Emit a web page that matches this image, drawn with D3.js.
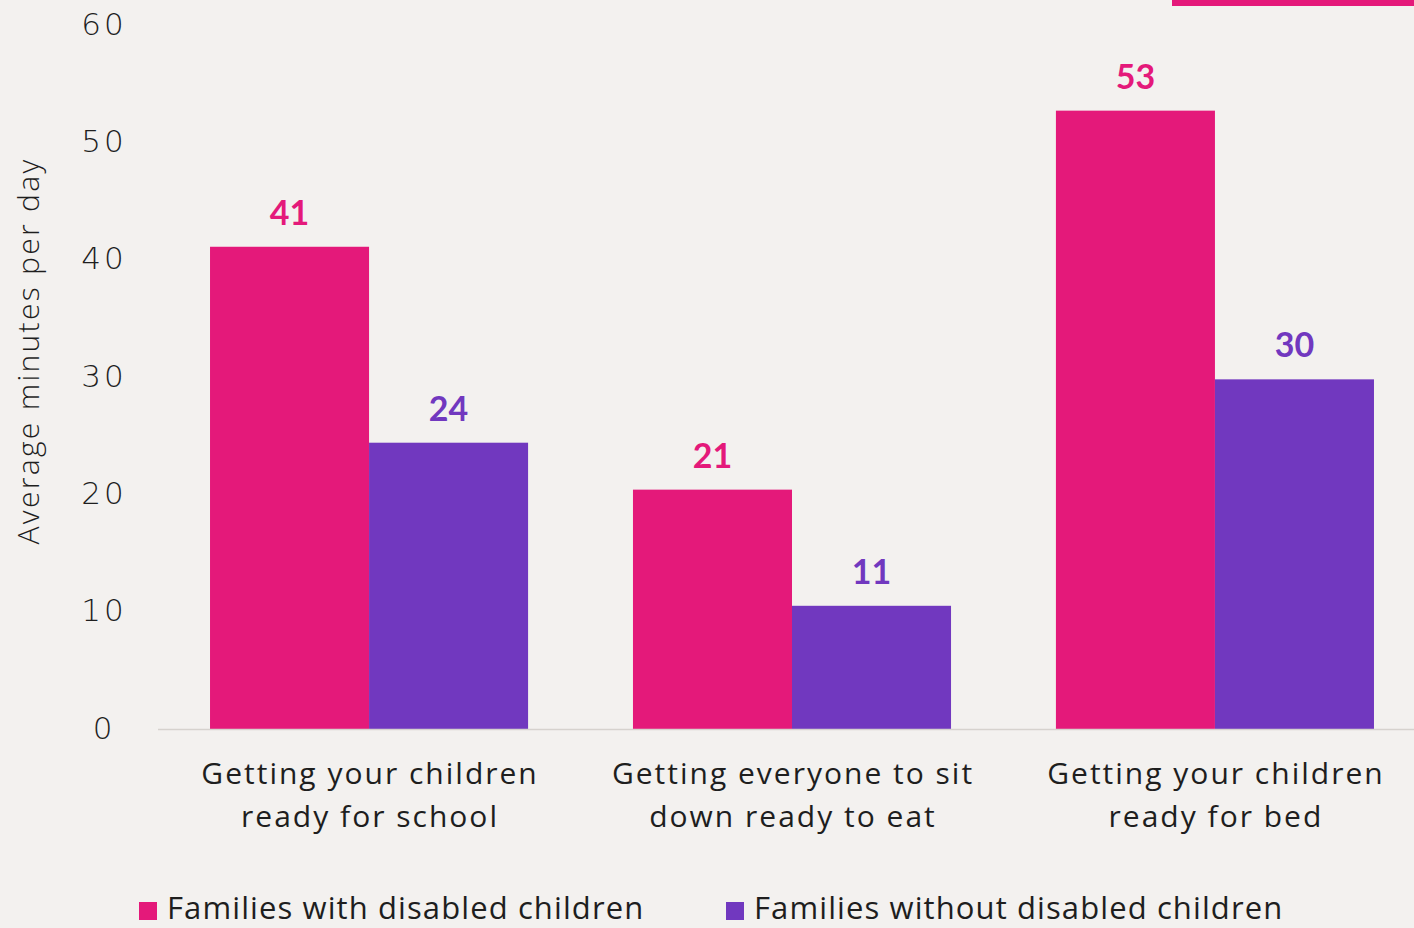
<!DOCTYPE html>
<html>
<head>
<meta charset="utf-8">
<script src="https://cdn.jsdelivr.net/npm/d3@7"></script>
<style>
  html, body { margin: 0; padding: 0; background: #f3f1ef; }
  svg { display: block; font-family: "Open Sans", Lato, sans-serif; }
</style>
</head>
<body>
<div id="chart"></div>
<script>
// chart values
var categories = ["Getting your children ready for school",
                  "Getting everyone to sit down ready to eat",
                  "Getting your children ready for bed"];
var categoryLines = [["Getting your children", "ready for school"],
                     ["Getting everyone to sit", "down ready to eat"],
                     ["Getting your children", "ready for bed"]];
var series = ["Families with disabled children", "Families without disabled children"];
var withDisabled = [41.1, 20.4, 52.7];
var withoutDisabled = [24.4, 10.5, 29.8];
var withLabels = ["41", "21", "53"];
var withoutLabels = ["24", "11", "30"];
var yTicks = [0, 10, 20, 30, 40, 50, 60];

var width = 1414,
    height = 928;

var colors = ["#e4197a", "#7138bf"];
var ink = "#1e1e1e";

var svg = d3.select("#chart").append("svg")
    .attr("width", width)
    .attr("height", height);

svg.append("rect")
    .attr("width", width).attr("height", height)
    .attr("fill", "#f3f1ef");

// decorative accent at the top right
svg.append("rect")
    .attr("x", 1172).attr("y", 0)
    .attr("width", 242).attr("height", 6)
    .attr("fill", colors[0]);

var y = d3.scaleLinear().domain([0, 60]).range([729, 25]);

var x0 = d3.scaleBand()
    .domain(categories)
    .range([158, 1426])
    .paddingInner(0.248)
    .paddingOuter(0.123);

var x1 = d3.scaleBand()
    .domain(series)
    .range([0, x0.bandwidth()]);

var rows = categories.map(function(c, i) {
    return {
        category: c,
        lines: categoryLines[i],
        values: [
            {name: series[0], value: withDisabled[i], label: withLabels[i], color: colors[0]},
            {name: series[1], value: withoutDisabled[i], label: withoutLabels[i], color: colors[1]}
        ]
    };
});

// y tick labels (no axis line)
var yAxis = svg.append("g")
    .attr("transform", "translate(104,0)")
    .call(d3.axisLeft(y).tickValues(yTicks).tickSize(0).tickPadding(0));
yAxis.select(".domain").remove();
yAxis.selectAll("text")
    .attr("text-anchor", "middle")
    .attr("dy", "0.36em")
    .attr("y", -2)
    .style("font-family", "'DejaVu Sans', sans-serif")
    .style("font-weight", 200)
    .style("font-size", "31px")
    .style("letter-spacing", "3px")
    .attr("fill", ink);

// axis title
svg.append("text")
    .attr("transform", "translate(39,351) rotate(-90)")
    .attr("text-anchor", "middle")
    .style("font-size", "30px")
    .style("font-weight", 300)
    .style("letter-spacing", "2.3px")
    .attr("fill", ink)
    .text("Average minutes per day");

// bars
var groups = svg.selectAll(".group")
    .data(rows)
    .enter().append("g")
    .attr("class", "group")
    .attr("transform", function(d) { return "translate(" + x0(d.category) + ",0)"; });

groups.selectAll("rect")
    .data(function(d) { return d.values; })
    .enter().append("rect")
    .attr("x", function(d) { return x1(d.name); })
    .attr("y", function(d) { return y(d.value); })
    .attr("width", x1.bandwidth())
    .attr("height", function(d) { return y(0) - y(d.value); })
    .attr("fill", function(d) { return d.color; });

groups.selectAll(".val")
    .data(function(d) { return d.values; })
    .enter().append("text")
    .attr("class", "val")
    .attr("x", function(d) { return x1(d.name) + x1.bandwidth() / 2; })
    .attr("y", function(d) { return y(d.value) - 22; })
    .attr("text-anchor", "middle")
    .style("font-family", "Lato, sans-serif")
    .style("font-size", "34px")
    .style("font-weight", 700)
    .attr("fill", function(d) { return d.color; })
    .text(function(d) { return d.label; });

// baseline
svg.append("line")
    .attr("x1", 158).attr("x2", width)
    .attr("y1", y(0) + 0.5).attr("y2", y(0) + 0.5)
    .attr("stroke", "#d6d2ce")
    .attr("stroke-width", 1.5);

// category labels
var catText = svg.selectAll(".cat")
    .data(rows)
    .enter().append("text")
    .attr("class", "cat")
    .attr("text-anchor", "middle")
    .style("font-size", "30px")
    .style("letter-spacing", "2px")
    .attr("fill", ink);

catText.selectAll("tspan")
    .data(function(d) { return d.lines.map(function(l) { return {line: l, cat: d.category}; }); })
    .enter().append("tspan")
    .attr("x", function(d) { return x0(d.cat) + x0.bandwidth() / 2 + 1; })
    .attr("y", function(d, i) { return 784 + i * 43; })
    .text(function(d) { return d.line; });

// legend
var legendX = [139, 726];
var legend = svg.selectAll(".legend")
    .data(series)
    .enter().append("g")
    .attr("class", "legend")
    .attr("transform", function(d, i) { return "translate(" + legendX[i] + ",0)"; });

legend.append("rect")
    .attr("x", 0).attr("y", 902)
    .attr("width", 18).attr("height", 18)
    .attr("fill", function(d, i) { return colors[i]; });

legend.append("text")
    .attr("x", 28).attr("y", 919)
    .style("font-size", "31px")
    .style("letter-spacing", "1.1px")
    .attr("fill", ink)
    .text(function(d) { return d; });
</script>
</body>
</html>
